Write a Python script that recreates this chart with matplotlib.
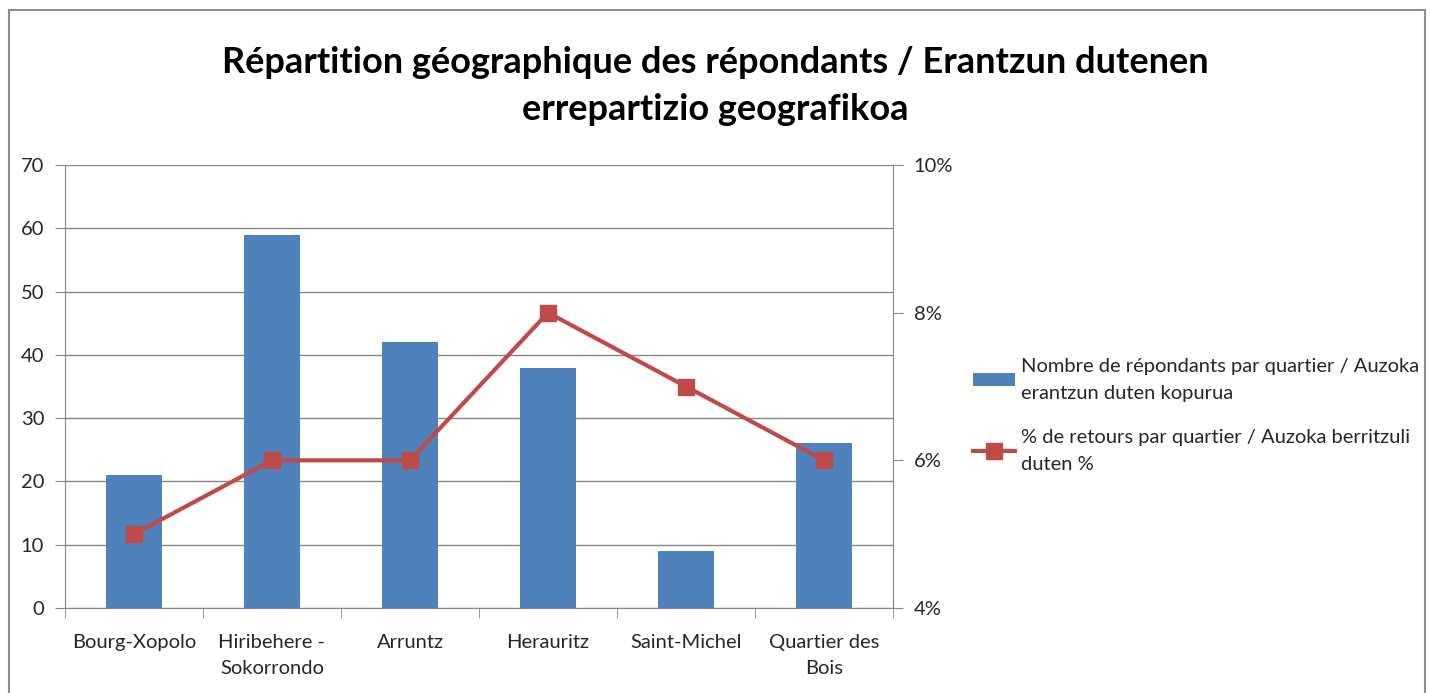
import matplotlib
matplotlib.use("Agg")
import matplotlib.pyplot as plt
from matplotlib.ticker import FuncFormatter, MultipleLocator, FixedLocator
from matplotlib.patches import Rectangle

categories = ["Bourg-Xopolo", "Hiribehere -\nSokorrondo", "Arruntz", "Herauritz", "Saint-Michel", "Quartier des\nBois"]
respondents = [21, 59, 42, 38, 9, 26]
return_pct = [0.05, 0.06, 0.06, 0.08, 0.07, 0.06]
bar_label = "Nombre de répondants par quartier / Auzoka\nerantzun duten kopurua"
line_label = "% de retours par quartier / Auzoka berritzuli\nduten %"
title = "Répartition géographique des répondants / Erantzun dutenen\nerrepartizio geografikoa"

plt.rcParams['font.family'] = ['Lato', 'DejaVu Sans']
txt = '#262626'
fig = plt.figure(figsize=(14.3, 6.93), dpi=100)
fig.patches.append(Rectangle((9/1430, -0.1), (1425-9)/1430, 1 + 0.1 - 10/693, transform=fig.transFigure,
                             fill=False, edgecolor='#8c8c8c', linewidth=1.5))

ax = fig.add_axes([65/1430, 1-608/693, (893-65)/1430, (608-165)/693])
x = list(range(len(categories)))
ax.bar(x, respondents, width=0.41, color='#4F81BD', zorder=2, label=bar_label)
ax.set_ylim(0, 70)
ax.set_xlim(-0.5, len(categories)-0.5)
ax.yaxis.set_major_locator(MultipleLocator(10))
ax.grid(axis='y', color='#868686', linewidth=1, zorder=0)
ax.set_axisbelow(True)
for s in ['top', 'right']:
    ax.spines[s].set_visible(False)
for s in ['left', 'bottom']:
    ax.spines[s].set_color('#868686')
ax.tick_params(axis='y', colors='#868686', labelcolor=txt, labelsize=14.5, length=7, pad=8)
ax.set_xticks(x)
ax.set_xticklabels(categories, fontsize=14.5, color=txt, linespacing=1.6)
ax.tick_params(axis='x', length=0, pad=19)
ax.xaxis.set_minor_locator(FixedLocator([i - 0.5 for i in range(len(categories)+1)]))
ax.tick_params(axis='x', which='minor', length=7, color='#868686')

ax2 = ax.twinx()
ax2.plot(x, return_pct, color='#BE4B48', linewidth=3, marker='s', markersize=12,
         markerfacecolor='#BE4B48', markeredgecolor='#BE4B48', zorder=3, label=line_label)
ax2.set_ylim(0.04, 0.10)
ax2.yaxis.set_major_locator(MultipleLocator(0.02))
ax2.yaxis.set_major_formatter(FuncFormatter(lambda v, p: f"{round(v*100)}%"))
for s in ['top', 'left', 'bottom']:
    ax2.spines[s].set_visible(False)
ax2.spines['right'].set_color('#868686')
ax2.tick_params(axis='y', colors='#868686', labelcolor=txt, labelsize=14.5, length=7, pad=8)

fig.text(0.5, 1-86/693, title, ha='center', va='center', fontsize=26, fontweight='bold',
         color='black', linespacing=1.55)

h1, l1 = ax.get_legend_handles_labels()
h2, l2 = ax2.get_legend_handles_labels()
leg = fig.legend(h1 + h2, l1 + l2, loc='upper left', bbox_to_anchor=(973/1430, 1-358/693), frameon=False,
                 fontsize=14.5, labelcolor=txt, handlelength=2.1, handleheight=0.6, labelspacing=1.35,
                 handletextpad=0.3, borderpad=0, borderaxespad=0)
for t in leg.get_texts():
    t.set_linespacing(1.7)

fig.savefig("out.png", dpi=100)
